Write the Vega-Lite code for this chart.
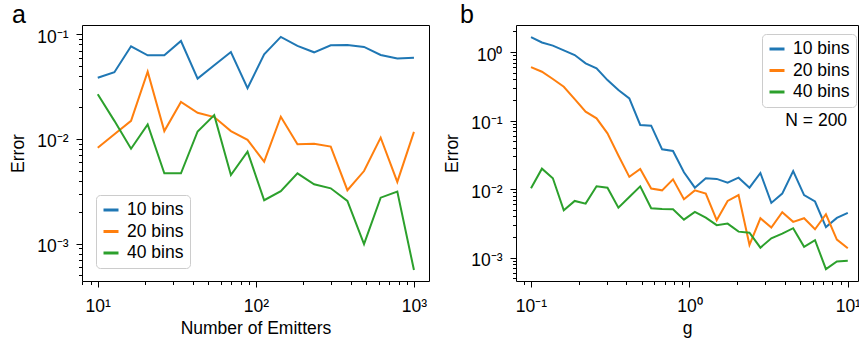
{
  "$schema": "https://vega.github.io/schema/vega-lite/v6.json",
  "padding": {"left": 9, "top": 2, "right": 0, "bottom": 0},
  "spacing": 13,
  "config": {
    "font": "Liberation Sans",
    "view": {"stroke": "#000000", "strokeWidth": 1},
    "axis": {
      "domain": false, "grid": false, "labelFont": "Liberation Sans", "titleFont": "Liberation Sans",
      "labelFontSize": 17.5, "titleFontSize": 17.5, "titleFontWeight": "normal",
      "labelColor": "#000000", "titleColor": "#000000", "tickColor": "#000000", "tickWidth": 1,
      "labelFlush": false, "labelOverlap": false, "labelBound": false,
      "tickSize": {"condition": {"test": "abs(log(datum.value)/LN10 - round(log(datum.value)/LN10)) < 0.01", "value": 6}, "value": 3.5},
      "labelExpr": "abs(log(datum.value)/LN10 - round(log(datum.value)/LN10)) < 0.01 ? '10' + (round(log(datum.value)/LN10) < 0 ? '⁻' : '') + ['⁰','¹','²','³'][abs(round(log(datum.value)/LN10))] : ''"
    },
    "axisX": {"labelPadding": 10, "titlePadding": 5},
    "axisY": {"labelPadding": 8, "titlePadding": 9, "labelOffset": 3},
    "legend": {
      "title": null, "orient": "none", "symbolType": "stroke", "symbolStrokeWidth": 3, "symbolSize": 225,
      "labelFont": "Liberation Sans", "labelFontSize": 17.5, "labelColor": "#000000",
      "strokeColor": "#cccccc", "cornerRadius": 4, "padding": 6, "fillColor": "rgba(255,255,255,0.8)",
      "rowPadding": 3.5, "labelOffset": 7
    },
    "title": {"anchor": "start", "frame": "group", "fontSize": 25, "fontWeight": "normal", "font": "Liberation Sans", "baseline": "alphabetic", "offset": -3, "color": "#000000"}
  },
  "resolve": {"scale": {"color": "independent"}, "legend": {"color": "independent"}},
  "datasets": {
    "a": [
      {"n": 10, "bins": "10 bins", "error": 0.0385}, {"n": 12.743, "bins": "10 bins", "error": 0.0434}, {"n": 16.238, "bins": "10 bins", "error": 0.0768}, {"n": 20.691, "bins": "10 bins", "error": 0.063}, {"n": 26.367, "bins": "10 bins", "error": 0.063}, {"n": 33.598, "bins": "10 bins", "error": 0.0863}, {"n": 42.813, "bins": "10 bins", "error": 0.0377}, {"n": 54.556, "bins": "10 bins", "error": 0.0506}, {"n": 69.519, "bins": "10 bins", "error": 0.0678}, {"n": 88.587, "bins": "10 bins", "error": 0.0305}, {"n": 112.88, "bins": "10 bins", "error": 0.0644}, {"n": 143.84, "bins": "10 bins", "error": 0.0944}, {"n": 183.3, "bins": "10 bins", "error": 0.0774}, {"n": 233.57, "bins": "10 bins", "error": 0.0673}, {"n": 297.64, "bins": "10 bins", "error": 0.0785}, {"n": 379.27, "bins": "10 bins", "error": 0.0791}, {"n": 483.29, "bins": "10 bins", "error": 0.0757}, {"n": 615.85, "bins": "10 bins", "error": 0.0635}, {"n": 784.76, "bins": "10 bins", "error": 0.0586}, {"n": 1000, "bins": "10 bins", "error": 0.0598},
      {"n": 10, "bins": "20 bins", "error": 0.00826}, {"n": 12.743, "bins": "20 bins", "error": 0.0111}, {"n": 16.238, "bins": "20 bins", "error": 0.0149}, {"n": 20.691, "bins": "20 bins", "error": 0.044}, {"n": 26.367, "bins": "20 bins", "error": 0.0119}, {"n": 33.598, "bins": "20 bins", "error": 0.0226}, {"n": 42.813, "bins": "20 bins", "error": 0.0178}, {"n": 54.556, "bins": "20 bins", "error": 0.0162}, {"n": 69.519, "bins": "20 bins", "error": 0.0119}, {"n": 88.587, "bins": "20 bins", "error": 0.0098}, {"n": 112.88, "bins": "20 bins", "error": 0.00608}, {"n": 143.84, "bins": "20 bins", "error": 0.0163}, {"n": 183.3, "bins": "20 bins", "error": 0.0089}, {"n": 233.57, "bins": "20 bins", "error": 0.009}, {"n": 297.64, "bins": "20 bins", "error": 0.00846}, {"n": 379.27, "bins": "20 bins", "error": 0.00324}, {"n": 483.29, "bins": "20 bins", "error": 0.00494}, {"n": 615.85, "bins": "20 bins", "error": 0.0103}, {"n": 784.76, "bins": "20 bins", "error": 0.00389}, {"n": 1000, "bins": "20 bins", "error": 0.0117},
      {"n": 10, "bins": "40 bins", "error": 0.0267}, {"n": 12.743, "bins": "40 bins", "error": 0.0149}, {"n": 16.238, "bins": "40 bins", "error": 0.00807}, {"n": 20.691, "bins": "40 bins", "error": 0.0138}, {"n": 26.367, "bins": "40 bins", "error": 0.0047}, {"n": 33.598, "bins": "40 bins", "error": 0.0047}, {"n": 42.813, "bins": "40 bins", "error": 0.0118}, {"n": 54.556, "bins": "40 bins", "error": 0.0169}, {"n": 69.519, "bins": "40 bins", "error": 0.00453}, {"n": 88.587, "bins": "40 bins", "error": 0.00755}, {"n": 112.88, "bins": "40 bins", "error": 0.0026}, {"n": 143.84, "bins": "40 bins", "error": 0.00318}, {"n": 183.3, "bins": "40 bins", "error": 0.0047}, {"n": 233.57, "bins": "40 bins", "error": 0.00369}, {"n": 297.64, "bins": "40 bins", "error": 0.00338}, {"n": 379.27, "bins": "40 bins", "error": 0.00256}, {"n": 483.29, "bins": "40 bins", "error": 0.00099}, {"n": 615.85, "bins": "40 bins", "error": 0.00275}, {"n": 784.76, "bins": "40 bins", "error": 0.00314}, {"n": 1000, "bins": "40 bins", "error": 0.00056}
    ],
    "b": [
      {"g": 0.1, "bins": "10 bins", "error": 1.65}, {"g": 0.11721, "bins": "10 bins", "error": 1.38}, {"g": 0.13738, "bins": "10 bins", "error": 1.24}, {"g": 0.16103, "bins": "10 bins", "error": 1.06}, {"g": 0.18874, "bins": "10 bins", "error": 0.904}, {"g": 0.22122, "bins": "10 bins", "error": 0.684}, {"g": 0.25929, "bins": "10 bins", "error": 0.578}, {"g": 0.30392, "bins": "10 bins", "error": 0.39}, {"g": 0.35622, "bins": "10 bins", "error": 0.279}, {"g": 0.41753, "bins": "10 bins", "error": 0.211}, {"g": 0.48939, "bins": "10 bins", "error": 0.0863}, {"g": 0.57362, "bins": "10 bins", "error": 0.0843}, {"g": 0.67234, "bins": "10 bins", "error": 0.0381}, {"g": 0.78805, "bins": "10 bins", "error": 0.0361}, {"g": 0.92367, "bins": "10 bins", "error": 0.0176}, {"g": 1.08264, "bins": "10 bins", "error": 0.0105}, {"g": 1.26896, "bins": "10 bins", "error": 0.0144}, {"g": 1.48735, "bins": "10 bins", "error": 0.0141}, {"g": 1.74333, "bins": "10 bins", "error": 0.0124}, {"g": 2.04336, "bins": "10 bins", "error": 0.0147}, {"g": 2.39503, "bins": "10 bins", "error": 0.0105}, {"g": 2.80722, "bins": "10 bins", "error": 0.0172}, {"g": 3.29034, "bins": "10 bins", "error": 0.0063}, {"g": 3.85662, "bins": "10 bins", "error": 0.0086}, {"g": 4.52035, "bins": "10 bins", "error": 0.0184}, {"g": 5.29832, "bins": "10 bins", "error": 0.0082}, {"g": 6.21017, "bins": "10 bins", "error": 0.0066}, {"g": 7.27895, "bins": "10 bins", "error": 0.0028}, {"g": 8.53168, "bins": "10 bins", "error": 0.0038}, {"g": 10, "bins": "10 bins", "error": 0.0045},
      {"g": 0.1, "bins": "20 bins", "error": 0.604}, {"g": 0.11721, "bins": "20 bins", "error": 0.516}, {"g": 0.13738, "bins": "20 bins", "error": 0.404}, {"g": 0.16103, "bins": "20 bins", "error": 0.312}, {"g": 0.18874, "bins": "20 bins", "error": 0.206}, {"g": 0.22122, "bins": "20 bins", "error": 0.135}, {"g": 0.25929, "bins": "20 bins", "error": 0.108}, {"g": 0.30392, "bins": "20 bins", "error": 0.0652}, {"g": 0.35622, "bins": "20 bins", "error": 0.031}, {"g": 0.41753, "bins": "20 bins", "error": 0.0151}, {"g": 0.48939, "bins": "20 bins", "error": 0.0197}, {"g": 0.57362, "bins": "20 bins", "error": 0.0102}, {"g": 0.67234, "bins": "20 bins", "error": 0.0096}, {"g": 0.78805, "bins": "20 bins", "error": 0.0139}, {"g": 0.92367, "bins": "20 bins", "error": 0.0071}, {"g": 1.08264, "bins": "20 bins", "error": 0.0096}, {"g": 1.26896, "bins": "20 bins", "error": 0.0086}, {"g": 1.48735, "bins": "20 bins", "error": 0.00352}, {"g": 1.74333, "bins": "20 bins", "error": 0.00673}, {"g": 2.04336, "bins": "20 bins", "error": 0.0082}, {"g": 2.39503, "bins": "20 bins", "error": 0.00154}, {"g": 2.80722, "bins": "20 bins", "error": 0.00376}, {"g": 3.29034, "bins": "20 bins", "error": 0.00275}, {"g": 3.85662, "bins": "20 bins", "error": 0.0046}, {"g": 4.52035, "bins": "20 bins", "error": 0.00333}, {"g": 5.29832, "bins": "20 bins", "error": 0.00376}, {"g": 6.21017, "bins": "20 bins", "error": 0.0026}, {"g": 7.27895, "bins": "20 bins", "error": 0.0043}, {"g": 8.53168, "bins": "20 bins", "error": 0.00184}, {"g": 10, "bins": "20 bins", "error": 0.00137},
      {"g": 0.1, "bins": "40 bins", "error": 0.0103}, {"g": 0.11721, "bins": "40 bins", "error": 0.0199}, {"g": 0.13738, "bins": "40 bins", "error": 0.0144}, {"g": 0.16103, "bins": "40 bins", "error": 0.00492}, {"g": 0.18874, "bins": "40 bins", "error": 0.00673}, {"g": 0.22122, "bins": "40 bins", "error": 0.00615}, {"g": 0.25929, "bins": "40 bins", "error": 0.011}, {"g": 0.30392, "bins": "40 bins", "error": 0.0105}, {"g": 0.35622, "bins": "40 bins", "error": 0.00537}, {"g": 0.41753, "bins": "40 bins", "error": 0.0077}, {"g": 0.48939, "bins": "40 bins", "error": 0.011}, {"g": 0.57362, "bins": "40 bins", "error": 0.00526}, {"g": 0.67234, "bins": "40 bins", "error": 0.00514}, {"g": 0.78805, "bins": "40 bins", "error": 0.0051}, {"g": 0.92367, "bins": "40 bins", "error": 0.00359}, {"g": 1.08264, "bins": "40 bins", "error": 0.00466}, {"g": 1.26896, "bins": "40 bins", "error": 0.00384}, {"g": 1.48735, "bins": "40 bins", "error": 0.00298}, {"g": 1.74333, "bins": "40 bins", "error": 0.00314}, {"g": 2.04336, "bins": "40 bins", "error": 0.0024}, {"g": 2.39503, "bins": "40 bins", "error": 0.00232}, {"g": 2.80722, "bins": "40 bins", "error": 0.0014}, {"g": 3.29034, "bins": "40 bins", "error": 0.00192}, {"g": 3.85662, "bins": "40 bins", "error": 0.00224}, {"g": 4.52035, "bins": "40 bins", "error": 0.00269}, {"g": 5.29832, "bins": "40 bins", "error": 0.00144}, {"g": 6.21017, "bins": "40 bins", "error": 0.0018}, {"g": 7.27895, "bins": "40 bins", "error": 0.00068}, {"g": 8.53168, "bins": "40 bins", "error": 0.00088}, {"g": 10, "bins": "40 bins", "error": 0.0009}
    ]
  },
  "hconcat": [
    {
      "width": 347, "height": 256,
      "title": {"text": "a", "dx": -70},
      "data": {"name": "a"},
      "mark": {"type": "line", "strokeWidth": 2, "clip": true},
      "encoding": {
        "x": {"field": "n", "type": "quantitative",
              "scale": {"type": "log", "domain": [7.95, 1245], "nice": false},
              "axis": {"title": "Number of Emitters", "values": [8, 9, 10, 20, 30, 40, 50, 60, 70, 80, 90, 100, 200, 300, 400, 500, 600, 700, 800, 900, 1000]}},
        "y": {"field": "error", "type": "quantitative",
              "scale": {"type": "log", "domain": [0.00044, 0.1227], "nice": false},
              "axis": {"title": "Error", "values": [0.0005, 0.0006, 0.0007, 0.0008, 0.0009, 0.001, 0.002, 0.003, 0.004, 0.005, 0.006, 0.007, 0.008, 0.009, 0.01, 0.02, 0.03, 0.04, 0.05, 0.06, 0.07, 0.08, 0.09, 0.1]}},
        "color": {"field": "bins", "type": "nominal",
                  "scale": {"domain": ["10 bins", "20 bins", "40 bins"], "range": ["#1f77b4", "#ff7f0e", "#2ca02c"]},
                  "legend": {"legendX": 14, "legendY": 170}}
      }
    },
    {
      "width": 342, "height": 256,
      "title": {"text": "b", "dx": -56},
      "layer": [
        {
          "data": {"name": "b"},
          "mark": {"type": "line", "strokeWidth": 2, "clip": true},
          "encoding": {
            "x": {"field": "g", "type": "quantitative",
                  "scale": {"type": "log", "domain": [0.0804, 11.6], "nice": false},
                  "axis": {"title": "g", "values": [0.09, 0.1, 0.2, 0.3, 0.4, 0.5, 0.6, 0.7, 0.8, 0.9, 1, 2, 3, 4, 5, 6, 7, 8, 9, 10]}},
            "y": {"field": "error", "type": "quantitative",
                  "scale": {"type": "log", "domain": [0.000457, 2.48], "nice": false},
                  "axis": {"title": "Error", "values": [0.0005, 0.0006, 0.0007, 0.0008, 0.0009, 0.001, 0.002, 0.003, 0.004, 0.005, 0.006, 0.007, 0.008, 0.009, 0.01, 0.02, 0.03, 0.04, 0.05, 0.06, 0.07, 0.08, 0.09, 0.1, 0.2, 0.3, 0.4, 0.5, 0.6, 0.7, 0.8, 0.9, 1, 2]}},
            "color": {"field": "bins", "type": "nominal",
                      "scale": {"domain": ["10 bins", "20 bins", "40 bins"], "range": ["#1f77b4", "#ff7f0e", "#2ca02c"]},
                      "legend": {"legendX": 246, "legendY": 9}}
          }
        },
        {
          "data": {"values": [{"label": "N = 200"}]},
          "mark": {"type": "text", "align": "right", "baseline": "middle", "fontSize": 17.5, "font": "Liberation Sans", "color": "#000000"},
          "encoding": {
            "text": {"field": "label"},
            "x": {"datum": 9.9},
            "y": {"datum": 0.1}
          }
        }
      ]
    }
  ]
}
